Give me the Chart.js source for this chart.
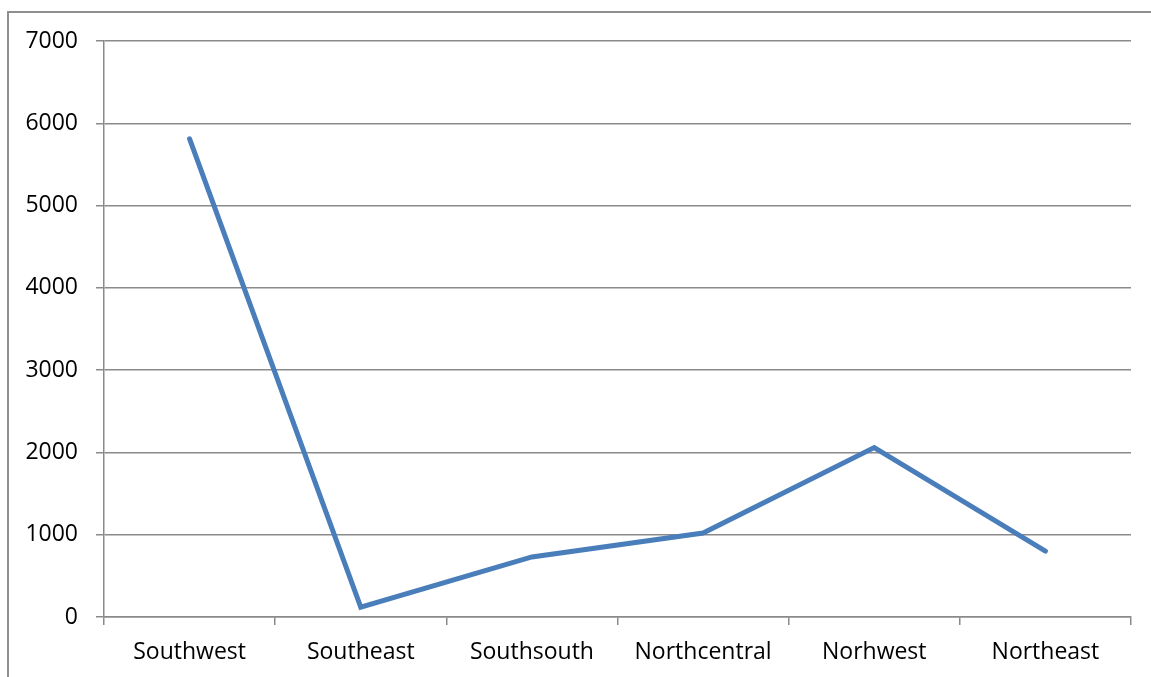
<!DOCTYPE html>
<html>
<head>
    <script src="https://cdn.jsdelivr.net/npm/chart.js"></script>
    <style>
        html, body { margin: 0; padding: 0; background: #ffffff; }
        #wrap { position: relative; width: 1151px; height: 677px; overflow: hidden; }
        /* 바깥 테두리 (왼쪽/위쪽만 보임) */
        #frame {
            position: absolute; left: 7px; top: 11px; width: 1200px; height: 700px;
            border-left: 2px solid #8f8f8f; border-top: 2px solid #8f8f8f;
        }
        #chart { position: absolute; left: 0; top: 0; }
    </style>
</head>
<body>
<div id="wrap">
    <div id="frame"></div>
    <canvas id="chart" width="1151" height="677"></canvas>
</div>

<script>
    // 데이터
    var regions = ['Southwest', 'Southeast', 'Southsouth', 'Northcentral', 'Norhwest', 'Northeast'];
    var values = [5810, 120, 730, 1020, 2060, 800];
    var yTicks = [0, 1000, 2000, 3000, 4000, 5000, 6000, 7000];

    var gridColor = '#8a8a8a';
    var font = { family: 'Open Sans', size: 23 };

    var ctx = document.getElementById('chart').getContext('2d');
    var chart = new Chart(ctx, {
        type: 'line',
        data: {
            labels: regions,
            datasets: [{
                data: values,
                borderColor: '#4a7ebb',
                borderWidth: 5,
                pointRadius: 0,
                tension: 0,
                borderCapStyle: 'round'
            }]
        },
        options: {
            responsive: false,
            animation: false,
            layout: { padding: { left: 0, right: 20, top: 41, bottom: 0 } },
            plugins: { legend: { display: false }, tooltip: { enabled: false } },
            scales: {
                x: {
                    offset: true,
                    grid: { display: true, drawOnChartArea: false, offset: true, tickLength: 8, color: gridColor, lineWidth: 1.5 },
                    border: { display: true, color: gridColor, width: 1.5 },
                    ticks: { color: '#000', font: font, padding: 14, maxRotation: 0 },
                    afterFit: function (s) { s.height = 60; }
                },
                y: {
                    min: 0,
                    max: 7000,
                    afterBuildTicks: function (s) { s.ticks = yTicks.map(function (v) { return { value: v }; }); },
                    grid: { color: gridColor, lineWidth: 1.5, tickLength: 8 },
                    border: { display: true, color: gridColor, width: 1.5 },
                    ticks: { color: '#000', font: font, padding: 18, callback: function (v) { return String(v); } },
                    afterFit: function (s) { s.width = 104; }
                }
            }
        }
    });
</script>
</body>
</html>
